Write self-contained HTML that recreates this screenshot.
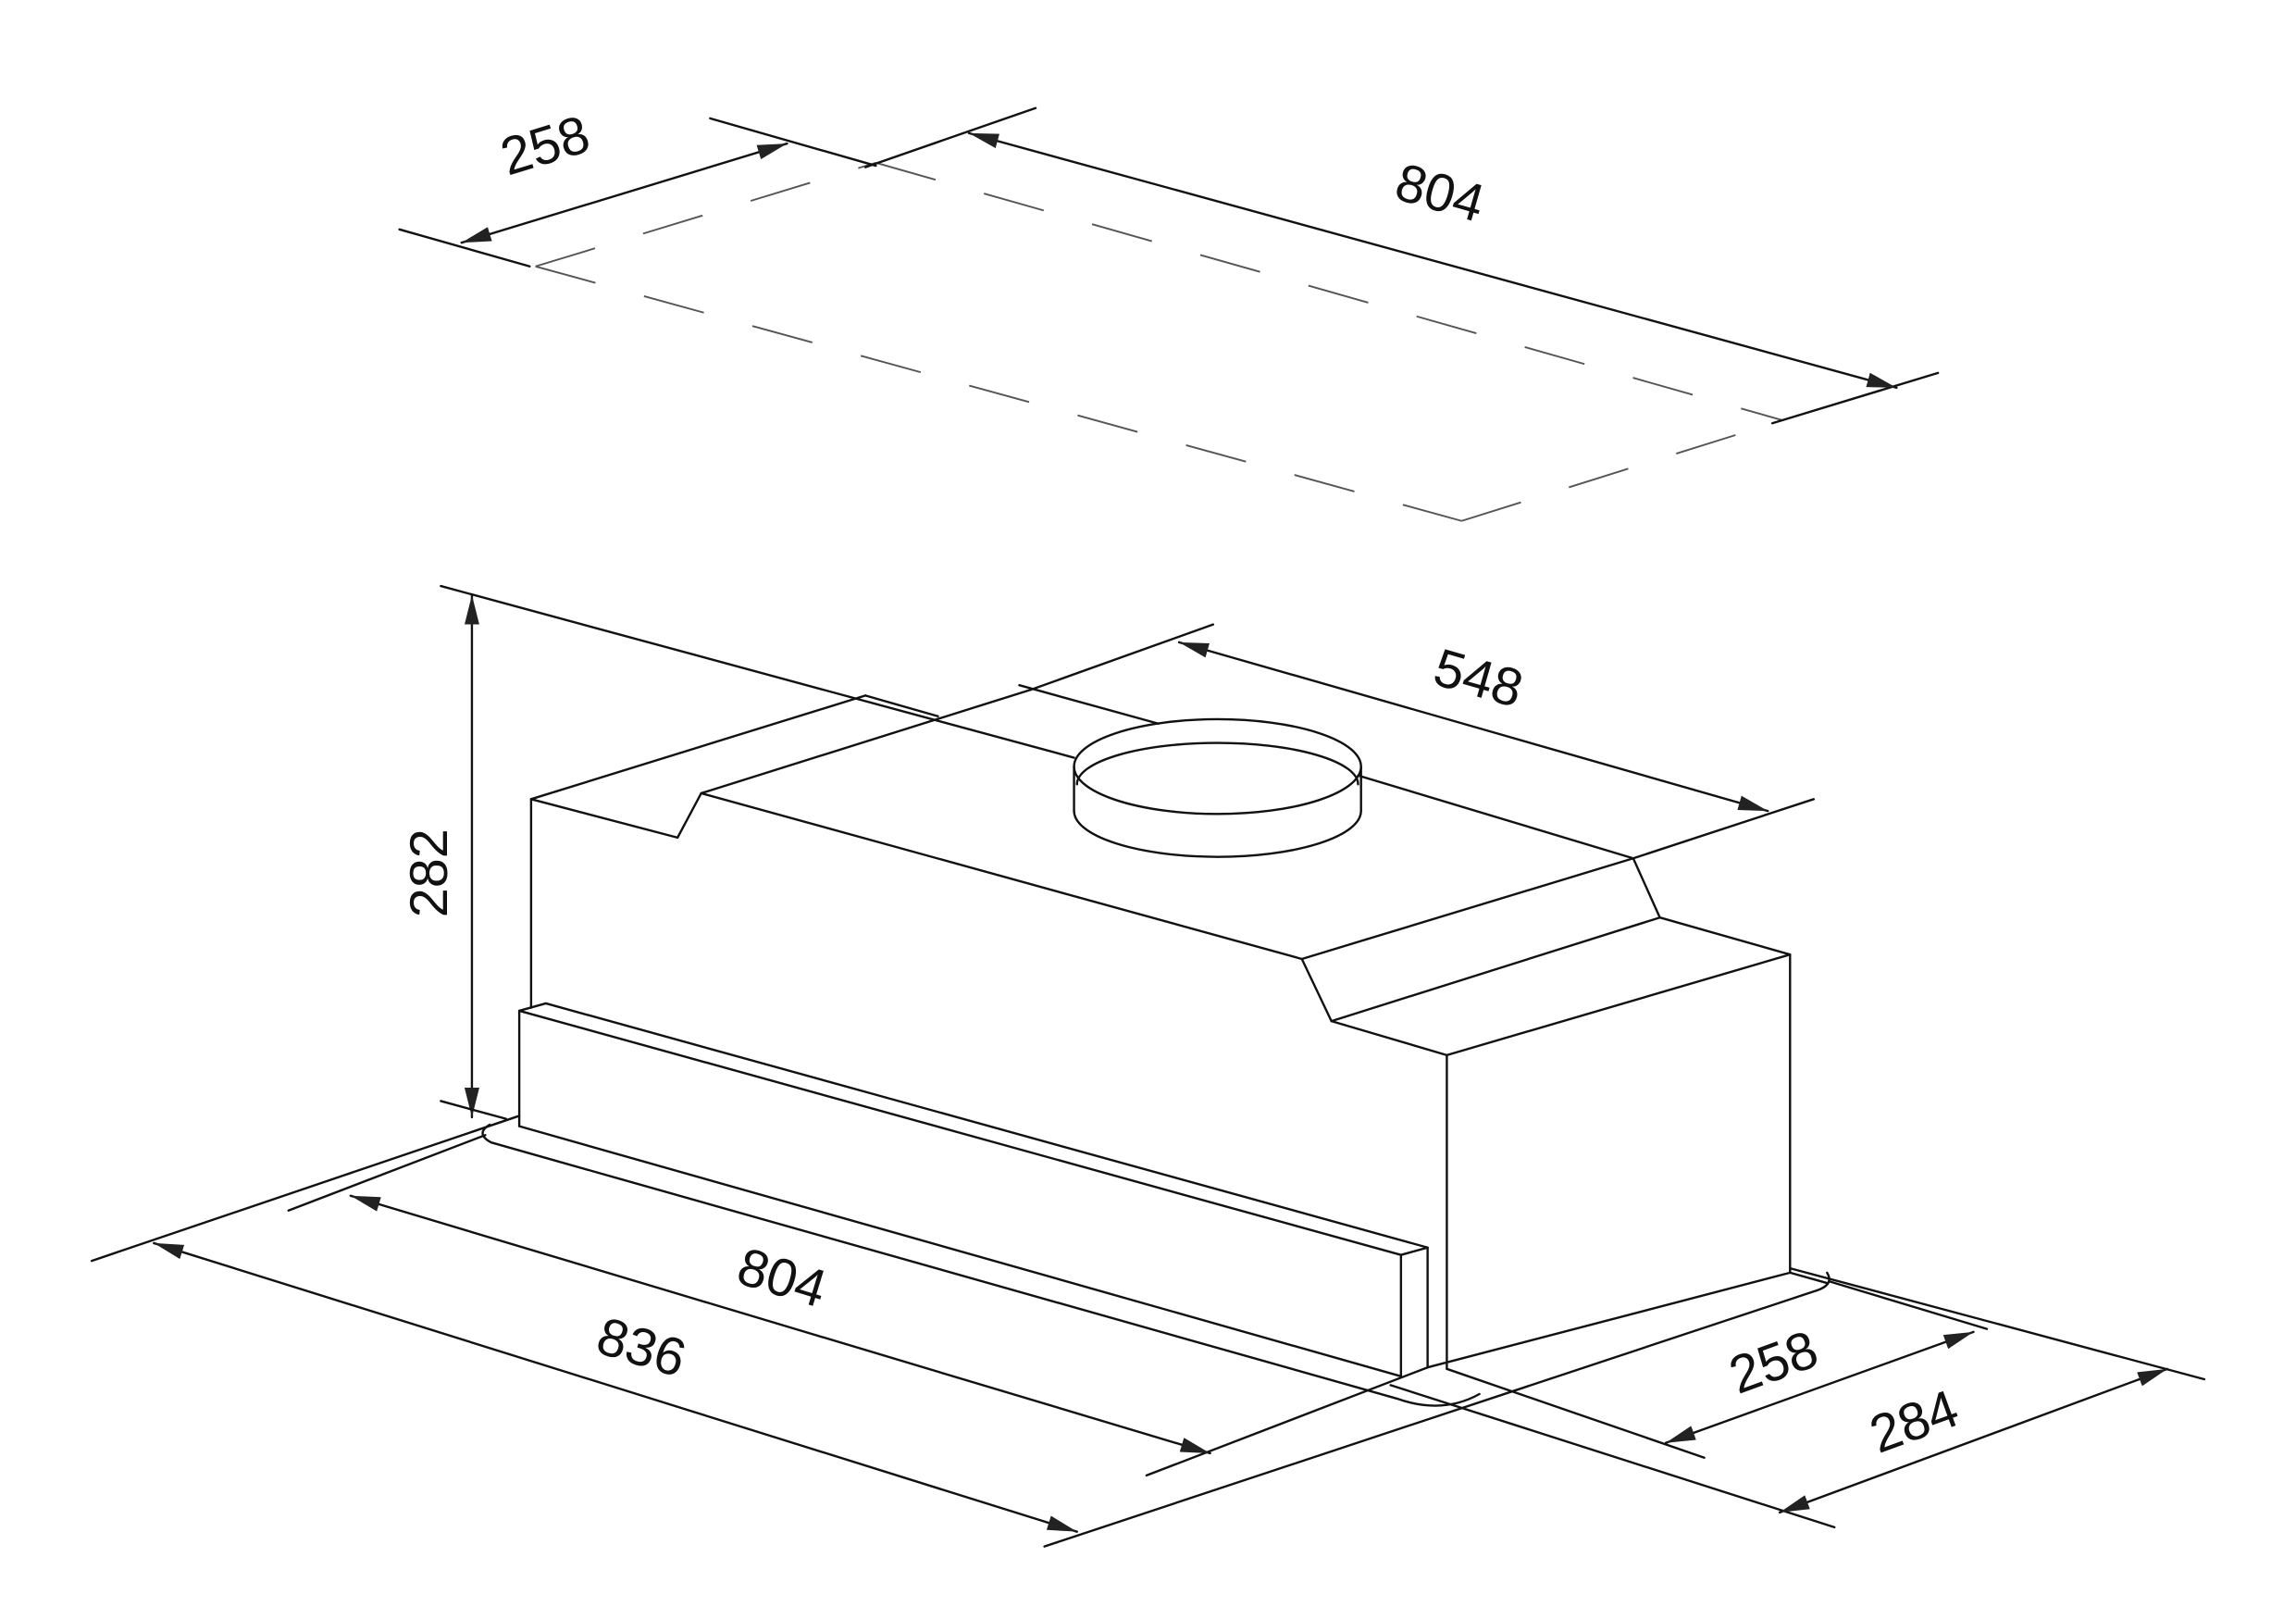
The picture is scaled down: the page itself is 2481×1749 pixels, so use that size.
<!DOCTYPE html>
<html><head><meta charset="utf-8"><style>
html,body{margin:0;padding:0;background:#fff;}
svg{display:block;}
text{font-family:"Liberation Sans",sans-serif;font-size:36px;fill:#111;}
</style></head><body>
<svg width="2481" height="1749" viewBox="0 0 1552 1094" preserveAspectRatio="none" xmlns="http://www.w3.org/2000/svg">
<defs>
<marker id="a" viewBox="0 0 20 10" refX="20" refY="5" markerWidth="20" markerHeight="10" markerUnits="userSpaceOnUse" orient="auto-start-reverse">
<path d="M0,0 L20,5 L0,10 z" fill="#222"/>
</marker>
</defs>
<rect width="1552" height="1094" fill="#fff"/>
<g stroke="#555" stroke-width="1.2" fill="none" stroke-dasharray="42,34">
<line x1="362" y1="180" x2="592" y2="110"/>
<line x1="362" y1="180" x2="988" y2="352"/>
<line x1="988" y1="352" x2="1205" y2="284"/>
<line x1="592" y1="110" x2="1205" y2="284"/>
</g>
<g stroke="#111" stroke-width="1.5" fill="none" stroke-linecap="round" stroke-linejoin="round">
<line x1="270" y1="155" x2="358" y2="180"/>
<line x1="480" y1="80" x2="592" y2="112"/>
<line x1="312" y1="164" x2="532" y2="97" marker-start="url(#a)" marker-end="url(#a)"/>
<line x1="585" y1="113" x2="700" y2="73"/>
<line x1="1198" y1="286" x2="1310" y2="252"/>
<line x1="655" y1="90" x2="1282" y2="262" marker-start="url(#a)" marker-end="url(#a)"/>

<line x1="298" y1="396" x2="726" y2="512"/>
<line x1="585" y1="470" x2="634" y2="484"/>
<polyline points="585,470 359,540 458,566 474,536 880,648 900,690 978,713 1210,645 1122,620 1104,580 880,648"/>
<line x1="474" y1="536" x2="697" y2="466"/>
<line x1="689" y1="463" x2="783" y2="489"/>
<line x1="918" y1="524" x2="1104" y2="580"/>
<line x1="900" y1="690" x2="1122" y2="620"/>
<line x1="1210" y1="645" x2="1210" y2="860"/>
<line x1="978" y1="713" x2="978" y2="925"/>
<line x1="359" y1="540" x2="359" y2="681"/>
<ellipse cx="823" cy="518" rx="97" ry="32"/>
<path d="M728,530 A95,28 0 0 1 918,530"/>
<line x1="726" y1="518" x2="726" y2="548"/>
<line x1="920" y1="518" x2="920" y2="548"/>
<path d="M726,548 A97,31 0 0 0 920,548"/>
<line x1="697" y1="466" x2="820" y2="422"/>
<line x1="1104" y1="580" x2="1226" y2="540"/>
<line x1="797" y1="434" x2="1195" y2="548" marker-start="url(#a)" marker-end="url(#a)"/>

<polyline points="351,761 351,683 369,678 965,843 965,924"/>
<polyline points="351,683 947,848 947,930"/>
<line x1="947" y1="848" x2="965" y2="843"/>
<line x1="351" y1="761" x2="947" y2="930"/>

<line x1="319" y1="402" x2="319" y2="755" marker-start="url(#a)" marker-end="url(#a)"/>
<line x1="298" y1="744" x2="342" y2="756"/>

<line x1="62" y1="852" x2="351" y2="754"/>
<line x1="940" y1="936" x2="1240" y2="1032"/>
<line x1="195" y1="818" x2="328" y2="767"/>
<path d="M331,760 Q321,766 332,772 L944,945 Q975,956 1000,942"/>
<line x1="706" y1="1045" x2="1228" y2="872"/>
<path d="M1228,872 Q1240,868 1235,860"/>
<line x1="1210" y1="860" x2="1235" y2="867"/>
<line x1="775" y1="997" x2="965" y2="924"/>
<line x1="965" y1="924" x2="1210" y2="860"/>
<line x1="978" y1="925" x2="1152" y2="985"/>
<line x1="1210" y1="857" x2="1490" y2="932"/>
<line x1="1237" y1="866" x2="1343" y2="898"/>

<line x1="104" y1="840" x2="728" y2="1035" marker-start="url(#a)" marker-end="url(#a)"/>
<line x1="237" y1="808" x2="818" y2="982" marker-start="url(#a)" marker-end="url(#a)"/>
<line x1="1126" y1="975" x2="1334" y2="900" marker-start="url(#a)" marker-end="url(#a)"/>
<line x1="1203" y1="1022" x2="1465" y2="925" marker-start="url(#a)" marker-end="url(#a)"/>
</g>
<g text-anchor="middle">
<text transform="translate(372,110) rotate(-17)">258</text>
<text transform="translate(970,142) rotate(16)">804</text>
<text transform="translate(996,470) rotate(16)">548</text>
<text transform="translate(302,590) rotate(-90)">282</text>
<text transform="translate(525,875) rotate(17)">804</text>
<text transform="translate(430,922) rotate(17)">836</text>
<text transform="translate(1203,932) rotate(-20)">258</text>
<text transform="translate(1298,972) rotate(-20)">284</text>
</g>
</svg>
</body></html>
